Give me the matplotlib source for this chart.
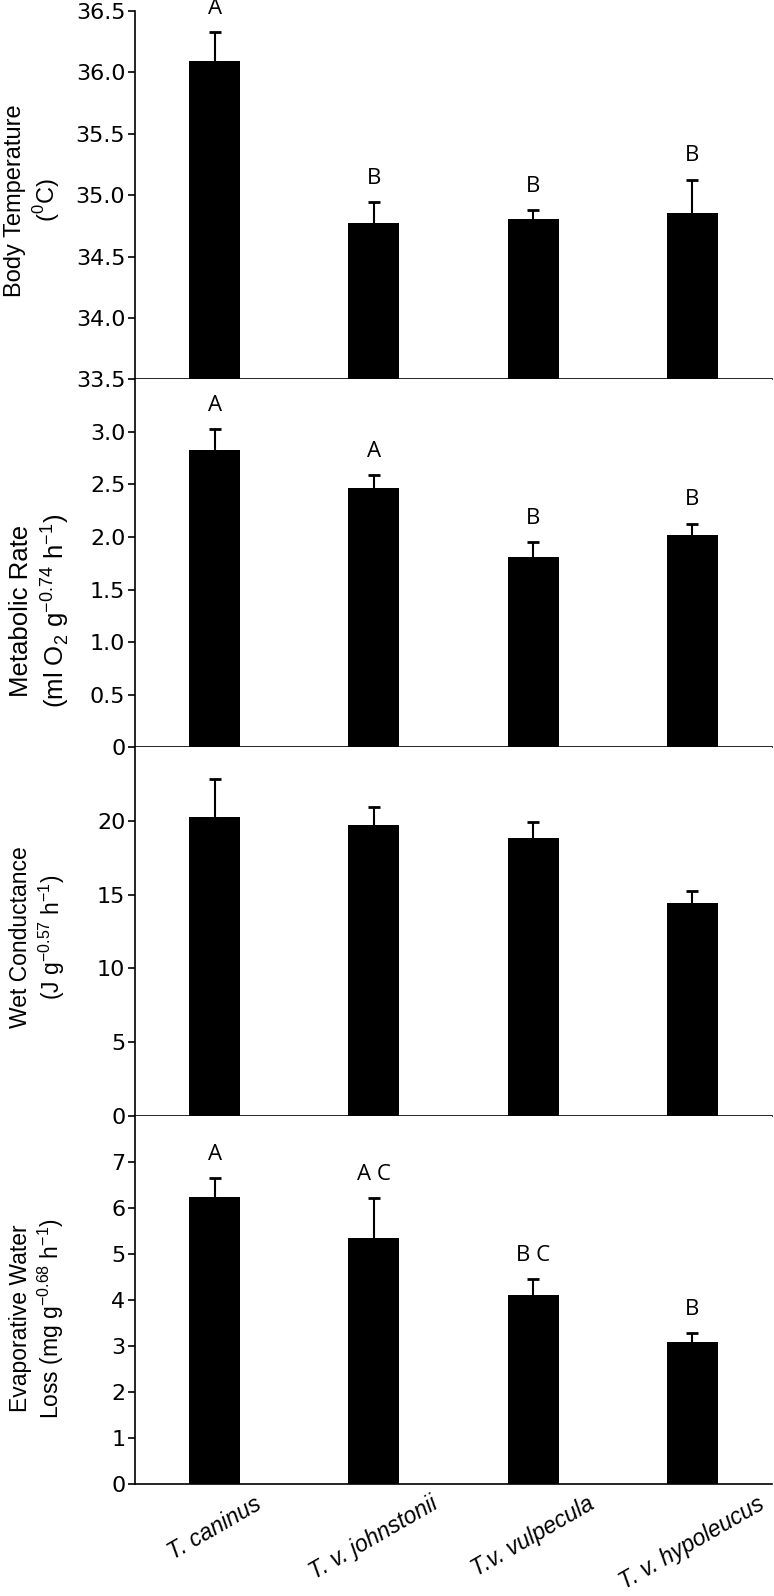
import matplotlib.pyplot as plt
import numpy as np

# species on the x axis
species = ['T. caninus', 'T. v. johnstonii', 'T.v. vulpecula', 'T. v. hypoleucus']

# body temperature (C)
body_temp = [36.09, 34.77, 34.805, 34.857]
body_temp_se = [0.235, 0.17, 0.07, 0.27]
body_temp_letters = ['A', 'B', 'B', 'B']

# metabolic rate
met_rate = [2.832, 2.47, 1.807, 2.023]
met_rate_se = [0.194, 0.117, 0.145, 0.105]
met_rate_letters = ['A', 'A', 'B', 'B']

# wet conductance
wet_cond = [20.31, 19.72, 18.84, 14.45]
wet_cond_se = [2.54, 1.22, 1.11, 0.82]

# evaporative water loss
ewl = [6.245, 5.352, 4.112, 3.083]
ewl_se = [0.4, 0.85, 0.33, 0.196]
ewl_letters = ['A', 'A C', 'B C', 'B']

# (values, se, letters, ylabel, ylim, ticks, ticklabels, label x, label y, label size)
panels = [
    (body_temp, body_temp_se, body_temp_letters, 'Body Temperature\n($^{0}$C)',
     (33.5, 36.5), np.arange(33.5, 36.51, 0.5), ['%.1f' % v for v in np.arange(33.5, 36.51, 0.5)],
     -0.16, 0.486, 17),
    (met_rate, met_rate_se, met_rate_letters,
     'Metabolic Rate\n(ml O$_2$ g$^{\u22120.74}$ h$^{\u22121}$)',
     (0, 3.5), np.arange(0, 3.01, 0.5), ['0', '0.5', '1.0', '1.5', '2.0', '2.5', '3.0'],
     -0.149, 0.37, 18.5),
    (wet_cond, wet_cond_se, None, 'Wet Conductance\n(J g$^{\u22120.57}$ h$^{\u22121}$)',
     (0, 25), [0, 5, 10, 15, 20], ['0', '5', '10', '15', '20'],
     -0.152, 0.484, 16.5),
    (ewl, ewl_se, ewl_letters, 'Evaporative Water\nLoss (mg g$^{\u22120.68}$ h$^{\u22121}$)',
     (0, 8), range(8), [str(i) for i in range(8)],
     -0.153, 0.45, 16.5),
]

plt.rcParams['font.family'] = ['Liberation Sans', 'DejaVu Sans']
plt.rcParams['mathtext.fontset'] = 'custom'
plt.rcParams['mathtext.rm'] = 'Liberation Sans'

fig, axes = plt.subplots(4, 1, figsize=(7.74, 15.96), dpi=100, sharex=True)
fig.subplots_adjust(left=0.1744, right=0.9974, top=0.9931, bottom=0.0702, hspace=0)

x = np.arange(len(species))

for ax, (vals, se, letters, label, ylim, ticks, ticklabels, lx, ly, lsize) in zip(axes, panels):
    ax.bar(x, vals, width=0.32, color='black', zorder=2)
    line, caps, bars = ax.errorbar(x, vals, yerr=[np.zeros(len(se)), se], fmt='none',
                                   ecolor='black', elinewidth=1.5, capsize=4, capthick=2, zorder=1)
    caps[0].set_visible(False)  # hide the lower cap sitting on the bar top
    ax.set_ylim(*ylim)
    ax.set_xlim(-0.5, 3.5)
    ax.set_yticks(ticks)
    ax.set_yticklabels(ticklabels, family='DejaVu Sans')
    ax.tick_params(axis='y', direction='out', length=5, width=1.2, labelsize=16, pad=2)
    ax.tick_params(axis='x', length=0)
    for s in ['top', 'right']:
        ax.spines[s].set_visible(False)
    ax.spines['left'].set_linewidth(1.2)
    ax.spines['bottom'].set_linewidth(1.2)
    ax.text(lx, ly, label, transform=ax.transAxes, rotation=90, ha='center', va='center',
            multialignment='center', fontsize=lsize)
    if letters is not None:
        for xi, v, e, t in zip(x, vals, se, letters):
            ax.annotate(t, (xi, v + e), xytext=(0, 17), textcoords='offset points',
                        ha='center', va='center', fontsize=16, family='Open Sans')

axes[-1].set_xticks(x)
axes[-1].set_xticklabels(species, rotation=30, ha='center', va='top', fontsize=16.5, style='italic')
axes[-1].tick_params(axis='x', pad=6)

fig.savefig('out.png', dpi=100)
